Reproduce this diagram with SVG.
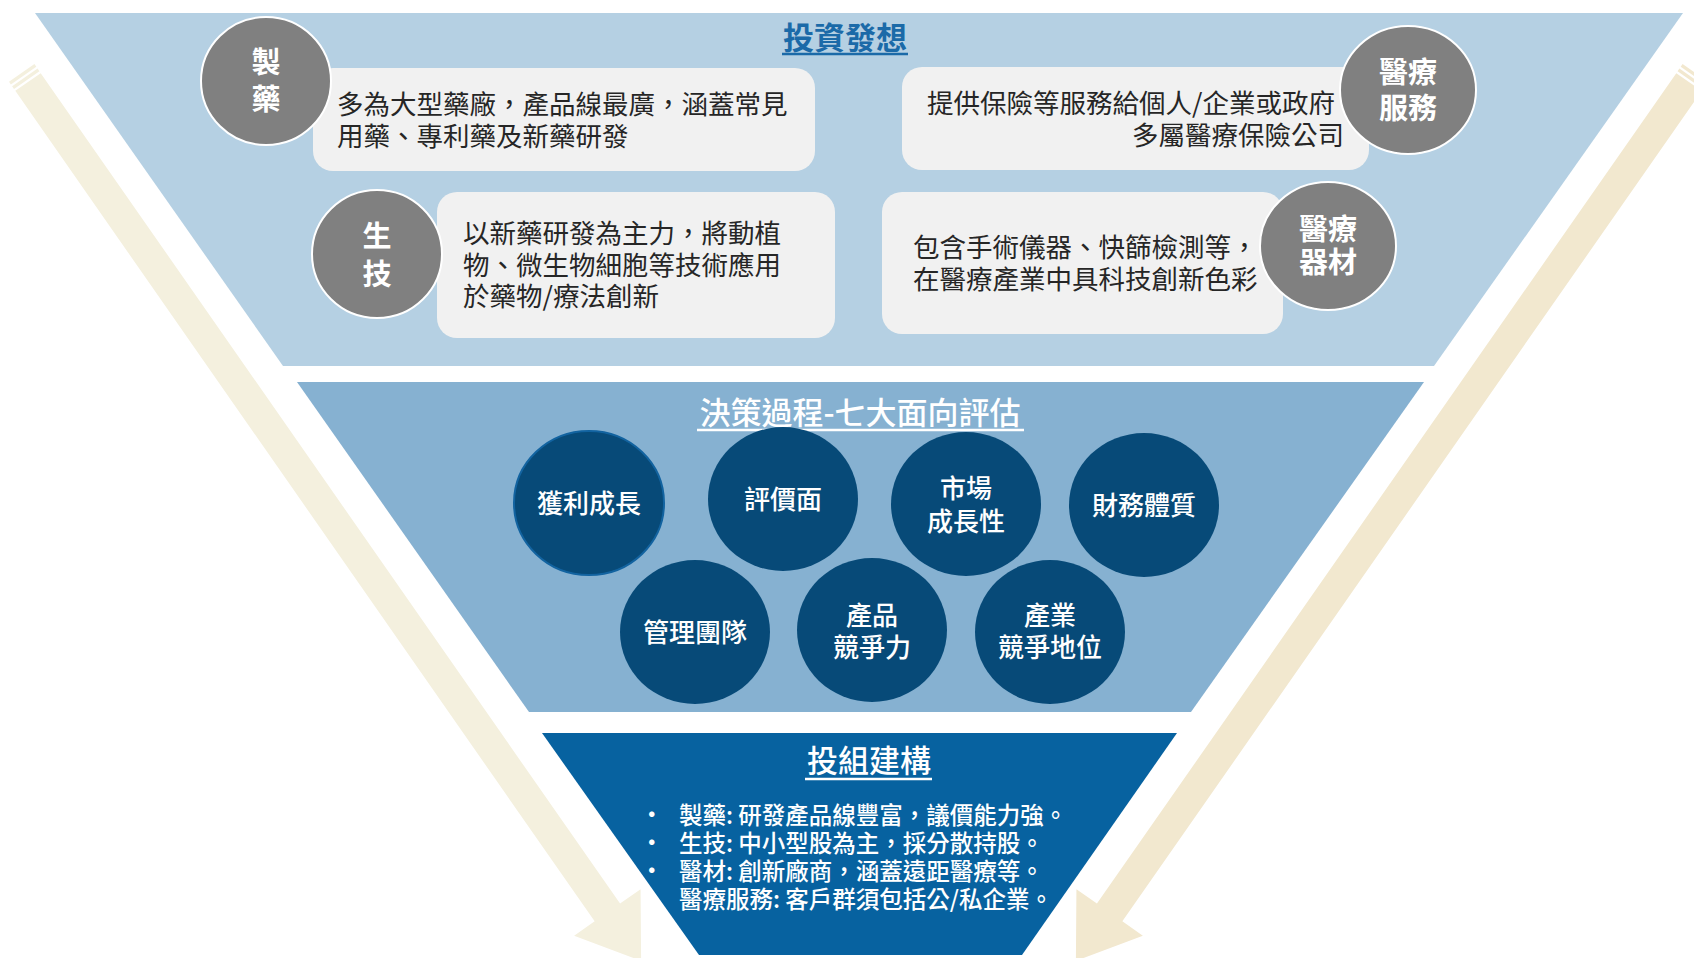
<svg xmlns="http://www.w3.org/2000/svg" width="1694" height="958" viewBox="0 0 1694 958">
<defs>
<style>
text{font-family:"Noto Sans CJK TC","Noto Sans CJK SC",sans-serif;}
.box{fill:#F1F1F1;}
.gc{fill:#808080;stroke:#FFFFFF;stroke-width:2;}
.gt{fill:#FFFFFF;font-size:29px;font-weight:700;text-anchor:middle;}
.bt{fill:#262626;font-size:26.5px;}
.dc{fill:#074A78;}
.dt{fill:#FFFFFF;font-size:26px;font-weight:500;text-anchor:middle;}
.lt{fill:#FFFFFF;font-size:23.5px;font-weight:500;}
</style>
<g id="arrowShape">
<path d="M0,-15.5 L1012.6,-15.5 L1012.6,-40.5 L1071.6,0 L1012.6,40.5 L1012.6,15.5 L0,15.5 Z"/>
<rect x="-5.5" y="-15.5" width="3.3" height="31"/>
<rect x="-11" y="-15.5" width="3.3" height="31"/>
</g>
</defs>
<rect width="1694" height="958" fill="#FFFFFF"/>

<g id="connectors">
<use href="#arrowShape" fill="#F4F0DE" transform="translate(28,82) rotate(55.1)"/>
<use href="#arrowShape" fill="#F2E8CF" transform="translate(1717,0) scale(-1,1) translate(28,82) rotate(55.1)"/>
</g>

<g id="stage-ideas">
<polygon points="35,13 1683,13 1434,366 283,366" fill="#B5D0E3"/>
<text x="845" y="49" text-anchor="middle" font-size="31" font-weight="700" fill="#1B6AA8">投資發想</text>
<line x1="782" y1="54" x2="908" y2="54" stroke="#1B6AA8" stroke-width="2.5"/>
</g>

<g id="node-pharma">
<rect class="box" x="313" y="68" width="502" height="103" rx="20"/>
<ellipse class="gc" cx="266" cy="81" rx="65" ry="64"/>
<text class="gt"><tspan x="266" y="73">製</tspan><tspan x="266" y="110">藥</tspan></text>
<text class="bt"><tspan x="337" y="114">多為大型藥廠，產品線最廣，涵蓋常見</tspan><tspan x="337" y="146">用藥、專利藥及新藥研發</tspan></text>
</g>

<g id="node-biotech">
<rect class="box" x="437" y="192" width="398" height="146" rx="20"/>
<ellipse class="gc" cx="377" cy="254" rx="65" ry="64"/>
<text class="gt"><tspan x="377" y="247">生</tspan><tspan x="377" y="285">技</tspan></text>
<text class="bt"><tspan x="463" y="243">以新藥研發為主力，將動植</tspan><tspan x="463" y="275">物、微生物細胞等技術應用</tspan><tspan x="463" y="306">於藥物/療法創新</tspan></text>
</g>

<g id="node-medservice">
<rect class="box" x="902" y="67" width="467" height="103" rx="20"/>
<ellipse class="gc" cx="1408" cy="90" rx="68" ry="64"/>
<text class="gt"><tspan x="1408" y="83">醫療</tspan><tspan x="1408" y="119">服務</tspan></text>
<text class="bt"><tspan x="927" y="113">提供保險等服務給個人/企業或政府</tspan><tspan x="1132" y="145">多屬醫療保險公司</tspan></text>
</g>

<g id="node-meddevice">
<rect class="box" x="882" y="192" width="401" height="142" rx="20"/>
<ellipse class="gc" cx="1328" cy="246" rx="68" ry="64"/>
<text class="gt"><tspan x="1328" y="240">醫療</tspan><tspan x="1328" y="273">器材</tspan></text>
<text class="bt"><tspan x="913" y="257">包含手術儀器、快篩檢測等，</tspan><tspan x="913" y="289">在醫療產業中具科技創新色彩</tspan></text>
</g>

<g id="stage-decision">
<polygon points="297,382 1424,382 1191,712 529,712" fill="#86B1D1"/>
<text x="860" y="424" text-anchor="middle" font-size="31" font-weight="500" fill="#FFFFFF">決策過程-七大面向評估</text>
<line x1="697" y1="430" x2="1024" y2="430" stroke="#FFFFFF" stroke-width="2.5"/>
</g>

<g id="node-profit">
<ellipse class="dc" cx="589" cy="503" rx="75" ry="72" stroke="#1263A0" stroke-width="2"/>
<text class="dt" x="589" y="513">獲利成長</text>
</g>
<g id="node-valuation">
<ellipse class="dc" cx="783" cy="499" rx="75" ry="72"/>
<text class="dt" x="783" y="509">評價面</text>
</g>
<g id="node-market">
<ellipse class="dc" cx="966" cy="504" rx="75" ry="72"/>
<text class="dt"><tspan x="966" y="498">市場</tspan><tspan x="966" y="531">成長性</tspan></text>
</g>
<g id="node-finance">
<ellipse class="dc" cx="1144" cy="505" rx="75" ry="72"/>
<text class="dt" x="1144" y="515">財務體質</text>
</g>
<g id="node-management">
<ellipse class="dc" cx="695" cy="632" rx="75" ry="72"/>
<text class="dt" x="695" y="642">管理團隊</text>
</g>
<g id="node-product">
<ellipse class="dc" cx="872" cy="630" rx="75" ry="72"/>
<text class="dt"><tspan x="872" y="625">產品</tspan><tspan x="872" y="657">競爭力</tspan></text>
</g>
<g id="node-industry">
<ellipse class="dc" cx="1050" cy="632" rx="75" ry="72"/>
<text class="dt"><tspan x="1050" y="625">產業</tspan><tspan x="1050" y="657">競爭地位</tspan></text>
</g>

<g id="stage-portfolio">
<polygon points="542,733 1177,733 1022,955 699,955" fill="#0762A0"/>
<text x="869" y="772" text-anchor="middle" font-size="31" font-weight="500" fill="#FFFFFF">投組建構</text>
<line x1="805" y1="779" x2="932" y2="779" stroke="#FFFFFF" stroke-width="2.5"/>
<text class="lt"><tspan x="640" y="823">•</tspan><tspan x="640" y="851">•</tspan><tspan x="640" y="879">•</tspan></text>
<text class="lt"><tspan x="679" y="824">製藥: 研發產品線豐富，議價能力強。</tspan><tspan x="679" y="852">生技: 中小型股為主，採分散持股。</tspan><tspan x="679" y="880">醫材: 創新廠商，涵蓋遠距醫療等。</tspan><tspan x="679" y="908">醫療服務: 客戶群須包括公/私企業。</tspan></text>
</g>
</svg>
